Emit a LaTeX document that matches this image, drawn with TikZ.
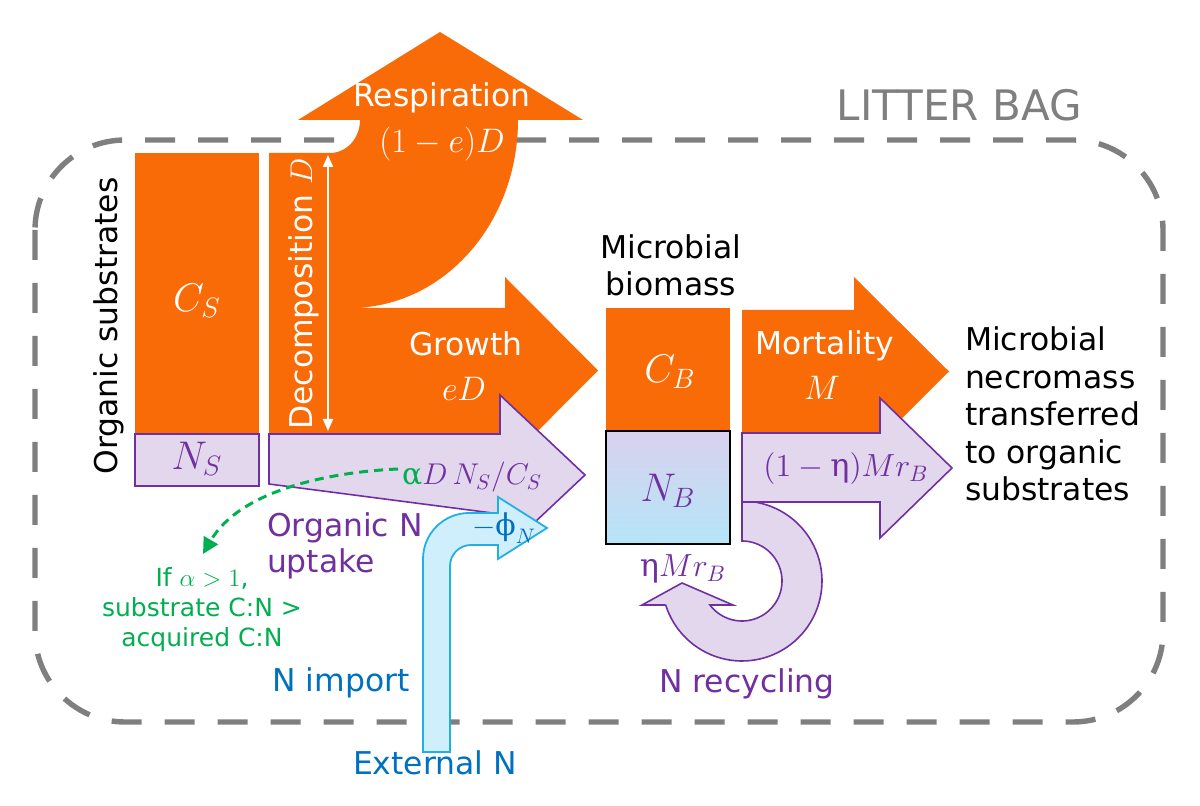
\RequirePackage{fix-cm}
\documentclass[tikz,border=0pt]{standalone}
\usepackage[no-math]{fontspec}
\setmainfont{DejaVu Sans}
\newfontfamily\grk{DejaVu Serif}
\usetikzlibrary{arrows.meta}
\definecolor{org}{HTML}{F96B06}
\definecolor{lav}{HTML}{E2D7EC}
\definecolor{pur}{HTML}{7030A0}
\definecolor{nbtop}{HTML}{D9D1EE}
\definecolor{nbbot}{HTML}{B5E5F7}
\definecolor{skyf}{HTML}{CFEFFC}
\definecolor{skyd}{HTML}{22AEE6}
\definecolor{blu}{HTML}{0070C0}
\definecolor{grn}{HTML}{00B050}
\definecolor{bag}{HTML}{7F7F7F}
\newcommand\lbl{\fontsize{15.7}{18.75}\selectfont}
\newcommand\mlg{\fontsize{20}{24}\selectfont}
\newcommand\mmd{\fontsize{17}{20}\selectfont}
\newcommand\gsm{\fontsize{12.5}{15}\selectfont}
\newcommand\bagf{\fontsize{21}{25}\selectfont}
\tikzset{
  txt/.style={inner sep=0pt, outer sep=0pt, font=\lbl},
  mtxt/.style={inner sep=0pt, outer sep=0pt, font=\mmd},
  btxt/.style={inner sep=0pt, outer sep=0pt, font=\mlg},
  orangeshape/.style={fill=org, draw=none},
  purpleshape/.style={fill=lav, draw=pur, line width=0.8pt, line join=miter},
  blueshape/.style={fill=skyf, draw=skyd, line width=0.9pt},
  bagline/.style={draw=bag, line width=2.7pt, dash pattern=on 15pt off 11.5pt, rounded corners=45pt},
}
\begin{document}
\begin{tikzpicture}[x=0.5pt,y=-0.5pt]
\useasboundingbox (0,0) rectangle (1200,806);
% litter bag outline
\draw[bagline] (35,140) rectangle (1163,722);
\node[inner sep=0pt, font=\bagf, text=bag, anchor=base east] (bagtitle) at (1082,121) {LITTER BAG};

% big orange shape: decomposition, respiration, growth
\fill[orangeshape] (269,153) -- (330,153) .. controls (346.6,153) and (360,138.2) .. (360,120)
  -- (298,120) -- (440,32) -- (583,120) -- (518,120)
  .. controls (518,224) and (443,308) .. (350,308)
  -- (505,308) -- (505,277) -- (598,370.5) -- (505,464) -- (505,434) -- (269,434) -- cycle;

% organic N uptake arrow
\draw[purpleshape] (269,434) -- (500,434) -- (500,395) -- (585,475) -- (500,555) -- (500,514) -- (269,484) -- cycle;

% N import arrow
\draw[blueshape] (423,752) -- (423,559) .. controls (423,533.6) and (443.6,513) .. (469,513)
  -- (498,513) -- (498,497) -- (547,528) -- (498,559) -- (498,545) -- (471,545)
  .. controls (459.4,545) and (450,554.4) .. (450,566) -- (450,752) -- cycle;

% substrate pools
\fill[orangeshape] (135,153) rectangle (259,434);
\draw[purpleshape] (135,434) rectangle (259,486);

% microbial pools
\fill[orangeshape] (606,308) rectangle (730,431);
\draw[draw=black, line width=1pt, top color=nbtop, bottom color=nbbot] (606,431) rectangle (730,544);

% mortality arrow
\fill[orangeshape] (742,310) -- (854,310) -- (854,277) -- (949,371.5) -- (854,466) -- (854,432) -- (742,432) -- cycle;

% recycling loop
\draw[purpleshape] (742,501)
  -- plot[domain=-90:162.5, samples=72] ({742+80*cos(\x)}, {581+80*sin(\x)})
  -- (642,605) -- (682,583) -- (733,605) -- (710,605)
  -- plot[domain=143.1:-90, samples=60] ({742+40*cos(\x)}, {581+40*sin(\x)})
  -- cycle;

% (1-eta) M r_B arrow
\draw[purpleshape] (742,433) -- (880,433) -- (880,398) -- (952,468) -- (880,538) -- (880,502) -- (742,502) -- cycle;

% decomposition double arrow
\coordinate (dtop) at (328,155);
\coordinate (dbot) at (328,431);
\draw[white, line width=1pt, {Triangle[length=6pt,width=5pt]}-{Triangle[length=6pt,width=5pt]}] (dtop) -- (dbot);

% labels
\node[txt, text=white, anchor=base] (resp) at (442,107) {Respiration};
\node[mtxt, text=white, anchor=base] (respm) at (442,153) {$(1-e)D$};
\node[txt, text=white, anchor=base] (grow) at (466,356) {Growth};
\node[mtxt, text=white, anchor=base] (growm) at (464,401) {$eD$};
\node[txt, text=white, anchor=base] (mort) at (825,355) {Mortality};
\node[mtxt, text=white, anchor=base] (mortm) at (822,400) {$M$};
\node[txt, text=white, anchor=base, rotate=90] (decomp) at (312,294) {Decomposition $D$};
\node[txt, text=black, anchor=base, rotate=90] (orgsub) at (117,326) {Organic substrates};

\node[btxt, text=white, anchor=base] (cs) at (197,312) {$C_S$};
\node[btxt, text=pur, anchor=base] (ns) at (197,470) {$N_S$};
\node[btxt, text=white, anchor=base] (cb) at (670,383) {$C_B$};
\node[btxt, text=pur, anchor=base] (nb) at (668,502) {$N_B$};

\node[txt, text=black, anchor=base, align=center] (mbio) at (671,296) {Microbial\\biomass};
\node[txt, text=black, anchor=base west, align=left] (necro) at (965,501) {Microbial\\necromass\\transferred\\to organic\\substrates};

\node[inner sep=0pt, font=\fontsize{16}{19}\selectfont, text=pur, anchor=base] (etaout) at (846,477) {$(1-\mbox{\grk η})Mr_B$};
\node[inner sep=0pt, font=\fontsize{16}{19}\selectfont, text=pur, anchor=base] (etain) at (683,577) {$\mbox{\grk η}Mr_B$};
\node[inner sep=0pt, font=\fontsize{15}{18}\selectfont, text=pur, anchor=base] (alpha) at (472,485) {{\color{grn}\grk α}$D\,N_S/C_S$};
\node[inner sep=0pt, font=\fontsize{15}{18}\selectfont, text=blu, anchor=base] (phi) at (504,536) {$-\mbox{\grk ϕ}_N$};

\node[txt, text=pur, anchor=base west, align=left, font=\fontsize{15.7}{18}\selectfont] (orgn) at (267,573) {Organic N\\uptake};
\node[inner sep=0pt, font=\gsm, text=grn, anchor=base, align=center] (cond) at (202,647) {If $\alpha>1$,\\substrate C:N >\\acquired C:N};
\node[txt, text=blu, anchor=base] (nimp) at (341,692) {N import};
\node[txt, text=blu, anchor=base] (extn) at (435,775) {External N};
\node[txt, text=pur, anchor=base] (nrec) at (747,693) {N recycling};

% green dashed annotation arrow
\coordinate (g1) at (398,469);
\coordinate (g2) at (203,554);
\draw[grn, line width=1.5pt, dash pattern=on 4.5pt off 3pt, -{Triangle[length=8pt,width=8pt]}] (g1) .. controls (330,472) and (240,490) .. (g2);
\end{tikzpicture}
\end{document}
